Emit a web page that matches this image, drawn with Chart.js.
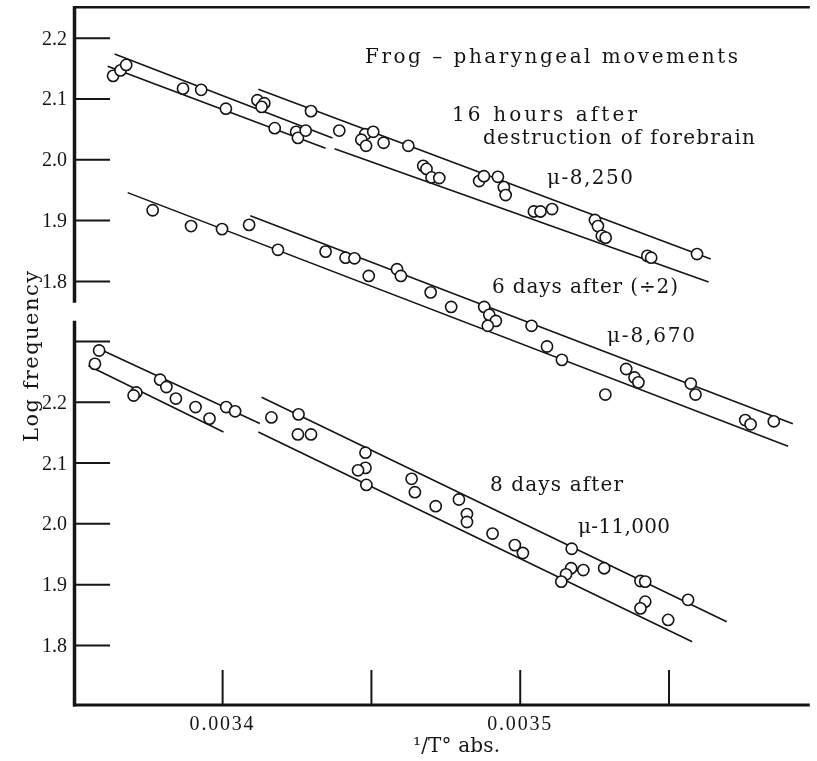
<!DOCTYPE html>
<html>
<head>
<meta charset="utf-8">
<title>Frog – pharyngeal movements</title>
<script src="https://cdn.jsdelivr.net/npm/chart.js@4.4.1/dist/chart.umd.min.js"></script>
<style>
    html, body { margin: 0; padding: 0; background: #fff; }
    canvas { display: block; }
</style>
</head>
<body>
<canvas id="chart" width="817" height="761"></canvas>
<script>
// 1/T (abs.) against log frequency.
// Upper block (16 hours, 6 days) uses the upper scale, 8 days the lower one.

const hours16Points = [
    [0.0033632, 2.138], [0.0033657, 2.147], [0.0033676, 2.156], [0.0033867, 2.117],
    [0.0033928, 2.115], [0.0034011, 2.084], [0.0034117, 2.098], [0.0034140, 2.093],
    [0.0034131, 2.087], [0.0034175, 2.052], [0.0034247, 2.046], [0.0034253, 2.036],
    [0.0034279, 2.048], [0.0034297, 2.080], [0.0034392, 2.048], [0.0034479, 2.042],
    [0.0034506, 2.046], [0.0034466, 2.033], [0.0034482, 2.023], [0.0034541, 2.028],
    [0.0034624, 2.023], [0.0034674, 1.990], [0.0034685, 1.985], [0.0034702, 1.971],
    [0.0034728, 1.970], [0.0034862, 1.965], [0.0034878, 1.973], [0.0034925, 1.972],
    [0.0034945, 1.955], [0.0034951, 1.942], [0.0035046, 1.915], [0.0035068, 1.915],
    [0.0035107, 1.919], [0.0035251, 1.901], [0.0035261, 1.891], [0.0035274, 1.875],
    [0.0035287, 1.872], [0.0035427, 1.842], [0.0035440, 1.839], [0.0035594, 1.845],
];

const hours16Lines = [
    [[0.0033637, 2.174], [0.0034369, 2.036]],
    [[0.0033614, 2.154], [0.0034346, 2.019]],
    [[0.0034120, 2.116], [0.0035640, 1.837]],
    [[0.0034376, 2.018], [0.0035633, 1.799]],
];

const days6Points = [
    [0.0033765, 1.917], [0.0033894, 1.891], [0.0033998, 1.886], [0.0034089, 1.893],
    [0.0034186, 1.852], [0.0034346, 1.849], [0.0034413, 1.839], [0.0034443, 1.838],
    [0.0034491, 1.809], [0.0034586, 1.820], [0.0034599, 1.809], [0.0034699, 1.782],
    [0.0034768, 1.758], [0.0034879, 1.758], [0.0034896, 1.745], [0.0034918, 1.735],
    [0.0034891, 1.727], [0.0035038, 1.727], [0.0035090, 1.693], [0.0035140, 1.671],
    [0.0035356, 1.656], [0.0035384, 1.642], [0.0035397, 1.634], [0.0035286, 1.614],
    [0.0035573, 1.632], [0.0035589, 1.614], [0.0035756, 1.572], [0.0035774, 1.565],
    [0.0035852, 1.570],
];

const days6Lines = [
    [[0.0033681, 1.946], [0.0035900, 1.529]],
    [[0.0034093, 1.908], [0.0035916, 1.566]],
];

const days8Points = [
    [0.0033585, 2.285], [0.0033571, 2.263], [0.0033710, 2.216], [0.0033701, 2.211],
    [0.0033790, 2.237], [0.0033811, 2.225], [0.0033843, 2.206], [0.0033909, 2.192],
    [0.0033956, 2.173], [0.0034012, 2.192], [0.0034042, 2.185], [0.0034164, 2.175],
    [0.0034255, 2.180], [0.0034253, 2.147], [0.0034297, 2.147], [0.0034480, 2.117],
    [0.0034480, 2.092], [0.0034455, 2.088], [0.0034483, 2.064], [0.0034635, 2.074],
    [0.0034646, 2.052], [0.0034716, 2.029], [0.0034794, 2.040], [0.0034821, 2.016],
    [0.0034821, 2.003], [0.0034907, 1.984], [0.0034982, 1.965], [0.0035009, 1.952],
    [0.0035173, 1.959], [0.0035171, 1.927], [0.0035154, 1.917], [0.0035212, 1.924],
    [0.0035138, 1.905], [0.0035282, 1.927], [0.0035404, 1.906], [0.0035420, 1.905],
    [0.0035420, 1.872], [0.0035404, 1.861], [0.0035497, 1.842], [0.0035564, 1.875],
];

const days8Lines = [
    [[0.0033588, 2.287], [0.0034125, 2.165]],
    [[0.0033549, 2.260], [0.0034003, 2.151]],
    [[0.0034131, 2.208], [0.0035694, 1.839]],
    [[0.0034120, 2.151], [0.0035578, 1.806]],
];

const xTicks = [0.0034, 0.00345, 0.0035, 0.00355];
const xTickLabels = ['0.0034', '', '0.0035', ''];
const upperTicks = [2.2, 2.1, 2.0, 1.9, 1.8];
const upperTickLabels = ['2.2', '2.1', '2.0', '1.9', '1.8'];
const lowerTicks = [2.3, 2.2, 2.1, 2.0, 1.9, 1.8];
const lowerTickLabels = ['', '2.2', '2.1', '2.0', '1.9', '1.8'];

// axis ranges
const xRange = [0.0033504, 0.0035973];
const upperRange = [1.1035, 2.2509];
const lowerRange = [1.7021, 2.8495];
const upperAxisEnd = 1.765;   // where the upper half of the y axis stops
const lowerAxisStart = 2.334; // where the lower half starts again

const ink = '#151515';
const tickFont = '20px "Liberation Serif", serif';
const letterFont = '20px "DejaVu Serif", serif';

const toXY = (pairs) => pairs.map(([x, y]) => ({ x, y }));

function pointSet(points, axis) {
    return {
        data: toXY(points),
        yAxisID: axis,
        order: 0,
        showLine: false,
        pointStyle: 'circle',
        pointRadius: 5.6,
        pointHoverRadius: 5.6,
        borderWidth: 1.6,
        pointBorderWidth: 1.6,
        borderColor: ink,
        pointBorderColor: ink,
        backgroundColor: '#fff',
        pointBackgroundColor: '#fff',
    };
}

function lineSet(pair, axis) {
    return {
        data: toXY(pair),
        yAxisID: axis,
        order: 1,
        showLine: true,
        borderColor: ink,
        borderWidth: 1.6,
        pointRadius: 0,
        pointHoverRadius: 0,
        fill: false,
        tension: 0,
    };
}

function stroke(ctx, x1, y1, x2, y2, width) {
    ctx.lineWidth = width;
    ctx.beginPath();
    ctx.moveTo(x1, y1);
    ctx.lineTo(x2, y2);
    ctx.stroke();
}

// draws text so that it spans the given width, like the wide hand lettering
function spacedText(ctx, text, x, y, width) {
    ctx.letterSpacing = '0px';
    const natural = ctx.measureText(text).width;
    const gap = (width - natural) / Math.max(text.length - 1, 1);
    ctx.letterSpacing = gap.toFixed(2) + 'px';
    ctx.fillText(text, x, y);
    ctx.letterSpacing = '0px';
}

const notes = [
    { text: 'Frog – pharyngeal movements', x: 365, y: 63, w: 373 },
    { text: '16 hours after', x: 452, y: 121, w: 185 },
    { text: 'destruction of forebrain', x: 483, y: 144, w: 272 },
    { text: 'μ-8,250', x: 547, y: 184, w: 86 },
    { text: '6 days after (÷2)', x: 492, y: 293, w: 186 },
    { text: 'μ-8,670', x: 607, y: 342, w: 88 },
    { text: '8 days after', x: 490, y: 491, w: 133 },
    { text: 'μ-11,000', x: 578, y: 533, w: 92 },
];

const paper = {
    id: 'paper',
    beforeDraw(chart) {
        const { ctx, width, height } = chart;
        ctx.save();
        ctx.fillStyle = '#fff';
        ctx.fillRect(0, 0, width, height);
        ctx.restore();
    },
};

const frame = {
    id: 'frame',
    afterDraw(chart) {
        const { ctx, chartArea: a } = chart;
        const { x, yUp, yLow } = chart.scales;
        ctx.save();
        ctx.strokeStyle = ink;
        ctx.fillStyle = ink;
        ctx.lineCap = 'butt';

        stroke(ctx, a.left - 2, a.top, a.right, a.top, 2.5);
        stroke(ctx, a.left - 2, a.bottom, a.right, a.bottom, 3);

        const axisX = a.left - 0.5;
        stroke(ctx, axisX, a.top - 1, axisX, yUp.getPixelForValue(upperAxisEnd), 3.5);
        stroke(ctx, axisX, yLow.getPixelForValue(lowerAxisStart), axisX, a.bottom + 1.5, 3.5);

        ctx.font = tickFont;
        ctx.textAlign = 'right';
        ctx.textBaseline = 'alphabetic';
        const yTicks = (scale, values, labels) => {
            values.forEach((v, i) => {
                const py = scale.getPixelForValue(v);
                stroke(ctx, a.left, py, a.left + 35, py, 2);
                if (labels[i]) {
                    ctx.fillText(labels[i], a.left - 8, py + 6.5);
                }
            });
        };
        yTicks(yUp, upperTicks, upperTickLabels);
        yTicks(yLow, lowerTicks, lowerTickLabels);

        ctx.textAlign = 'left';
        xTicks.forEach((v, i) => {
            const px = x.getPixelForValue(v);
            stroke(ctx, px, a.bottom, px, a.bottom - 35, 2);
            if (xTickLabels[i]) {
                spacedText(ctx, xTickLabels[i], px - 33, a.bottom + 25, 64);
            }
        });

        // axis titles
        ctx.font = '20px "DejaVu Serif", serif';
        spacedText(ctx, '¹/T° abs.', 413, 752, 87);

        ctx.save();
        ctx.font = '21px "DejaVu Serif", serif';
        ctx.translate(38, 357);
        ctx.rotate(-Math.PI / 2);
        spacedText(ctx, 'Log frequency', -85, 0, 171);
        ctx.restore();

        ctx.font = letterFont;
        notes.forEach((n) => spacedText(ctx, n.text, n.x, n.y, n.w));

        ctx.restore();
    },
};

const datasets = [
    pointSet(hours16Points, 'yUp'),
    pointSet(days6Points, 'yUp'),
    pointSet(days8Points, 'yLow'),
    ...hours16Lines.map((l) => lineSet(l, 'yUp')),
    ...days6Lines.map((l) => lineSet(l, 'yUp')),
    ...days8Lines.map((l) => lineSet(l, 'yLow')),
];

new Chart(document.getElementById('chart'), {
    type: 'scatter',
    data: { datasets },
    options: {
        responsive: false,
        animation: false,
        events: [],
        devicePixelRatio: 1,
        layout: { padding: { left: 75, top: 6, right: 0, bottom: 56 } },
        plugins: {
            legend: { display: false },
            tooltip: { enabled: false },
        },
        scales: {
            x: { type: 'linear', min: xRange[0], max: xRange[1], display: false },
            yUp: { type: 'linear', position: 'left', min: upperRange[0], max: upperRange[1], display: false },
            yLow: { type: 'linear', position: 'left', min: lowerRange[0], max: lowerRange[1], display: false },
        },
    },
    plugins: [paper, frame],
});
</script>
</body>
</html>
